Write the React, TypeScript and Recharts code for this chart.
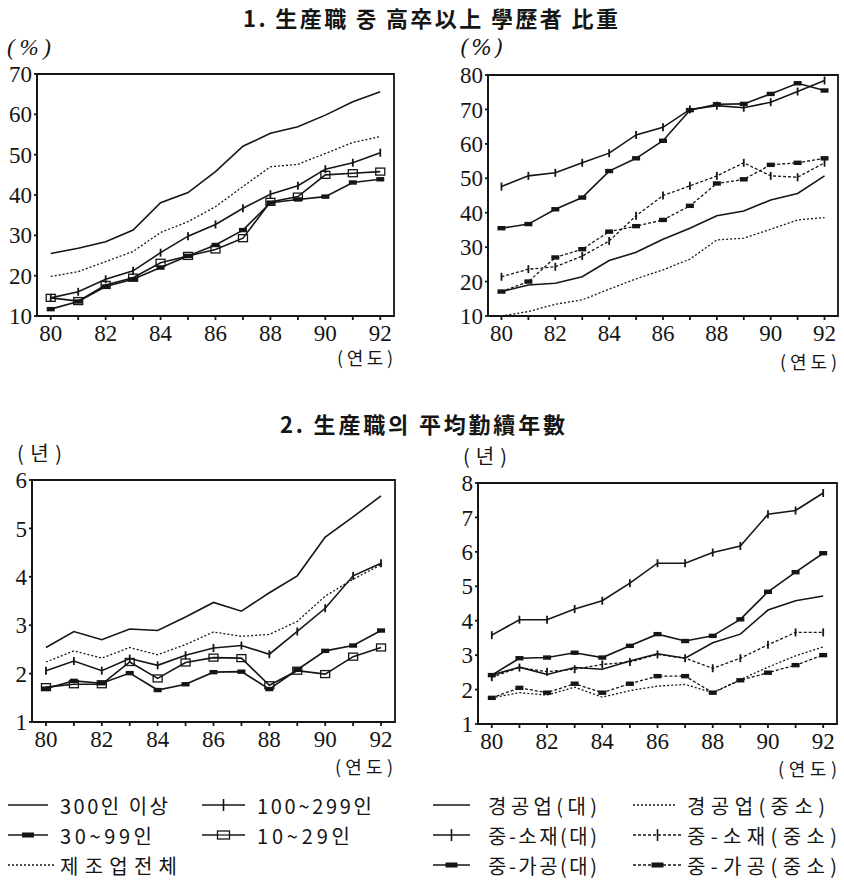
import React from 'react';
import { LineChart, Line, XAxis, YAxis, ReferenceArea } from 'recharts';

const INK = '#151515';
const SERIF = "'Liberation Serif', 'DejaVu Serif', serif";
const SERIF2 = "'DejaVu Serif', serif";
const KR = "'Noto Sans CJK KR', 'Noto Sans', sans-serif";

const years = [80, 81, 82, 83, 84, 85, 86, 87, 88, 89, 90, 91, 92];

// 1. 생산직 중 고졸이상 학력자 비중 (%) - 규모별
const over300Pct = [25.5, 26.8, 28.4, 31.3, 38.1, 40.6, 45.8, 52.1, 55.3, 56.9, 59.8, 63.1, 65.6];
const mid100Pct = [14.5, 16.0, 19.1, 21.2, 25.7, 29.8, 32.7, 36.7, 40.2, 42.3, 46.4, 48.0, 50.5];
const small30Pct = [11.7, 13.6, 17.3, 19.1, 22.0, 24.9, 27.6, 31.3, 38.1, 38.9, 39.6, 43.1, 43.9];
const tiny10Pct = [14.5, 13.7, 17.7, 19.5, 23.2, 24.9, 26.5, 29.3, 38.3, 39.6, 45.0, 45.4, 45.8];
const mfgPct = [19.8, 21.0, 23.5, 26.0, 30.7, 33.4, 37.1, 42.1, 47.0, 47.6, 50.3, 53.0, 54.5];

// 1. 업종별
const lightLargePct = [17.1, 19.0, 19.5, 21.4, 26.1, 28.5, 32.3, 35.5, 39.1, 40.5, 43.7, 45.6, 50.7];
const lightSmePct = [10.0, 11.3, 13.4, 14.7, 17.8, 20.8, 23.4, 26.5, 32.1, 32.6, 35.2, 37.9, 38.6];
const matLargePct = [47.6, 50.7, 51.6, 54.5, 57.3, 62.6, 64.8, 70.0, 71.1, 70.5, 72.1, 75.2, 78.4];
const matSmePct = [21.4, 23.6, 24.3, 27.4, 31.8, 39.1, 45.0, 47.8, 50.7, 54.5, 50.7, 50.3, 54.5];
const procLargePct = [35.5, 36.7, 41.0, 44.4, 52.1, 55.8, 60.9, 69.8, 71.5, 71.6, 74.5, 77.6, 75.5];
const procSmePct = [17.1, 20.0, 27.0, 29.4, 34.5, 36.1, 37.9, 42.0, 48.5, 49.7, 53.9, 54.5, 55.8];

// 2. 생산직의 평균근속년수 (년) - 규모별
const over300Yr = [2.54, 2.87, 2.70, 2.92, 2.89, 3.17, 3.47, 3.29, 3.67, 4.02, 4.82, 5.24, 5.67];
const mid100Yr = [2.06, 2.26, 2.06, 2.31, 2.17, 2.38, 2.53, 2.58, 2.40, 2.87, 3.35, 4.02, 4.28];
const small30Yr = [1.69, 1.85, 1.80, 2.01, 1.66, 1.78, 2.03, 2.04, 1.68, 2.08, 2.47, 2.58, 2.89];
const tiny10Yr = [1.72, 1.78, 1.78, 2.24, 1.90, 2.23, 2.33, 2.32, 1.76, 2.06, 1.99, 2.35, 2.54];
const mfgYr = [2.24, 2.47, 2.32, 2.54, 2.39, 2.60, 2.86, 2.77, 2.81, 3.08, 3.60, 3.95, 4.25];

// 2. 업종별
const lightLargeYr = [2.42, 2.65, 2.44, 2.64, 2.59, 2.83, 3.04, 2.91, 3.36, 3.61, 4.31, 4.58, 4.72];
const lightSmeYr = [1.76, 1.91, 1.84, 2.07, 1.78, 1.97, 2.10, 2.15, 1.91, 2.29, 2.65, 2.98, 3.24];
const matLargeYr = [3.58, 4.03, 4.03, 4.34, 4.58, 5.09, 5.67, 5.67, 5.98, 6.17, 7.09, 7.20, 7.71];
const matSmeYr = [2.36, 2.64, 2.52, 2.59, 2.73, 2.80, 3.02, 2.91, 2.62, 2.91, 3.30, 3.66, 3.66];
const procLargeYr = [2.42, 2.91, 2.93, 3.07, 2.93, 3.27, 3.61, 3.41, 3.56, 4.04, 4.84, 5.41, 5.96];
const procSmeYr = [1.76, 2.05, 1.91, 2.17, 1.91, 2.17, 2.39, 2.39, 1.91, 2.27, 2.49, 2.71, 3.00];

const pctTicksL = [10, 20, 30, 40, 50, 60, 70];
const pctTicksR = [10, 20, 30, 40, 50, 60, 70, 80];
const yrTicksL = [1, 2, 3, 4, 5, 6];
const yrTicksR = [1, 2, 3, 4, 5, 6, 7, 8];

type Marker = 'plus' | 'bar' | 'square' | null;
interface Series {
  key: string;
  name: string;
  values: number[];
  dash?: string;
  marker: Marker;
}

const sizeSeries = (a: number[], b: number[], c: number[], d: number[], e: number[]): Series[] => [
  { key: 'over300', name: '300인 이상', values: a, marker: null },
  { key: 'mfg', name: '제조업전체', values: e, dash: '2 2', marker: null },
  { key: 'mid100', name: '100~299인', values: b, marker: 'plus' },
  { key: 'small30', name: '30~99인', values: c, marker: 'bar' },
  { key: 'tiny10', name: '10~29인', values: d, marker: 'square' },
];

const industrySeries = (ll: number[], ls: number[], ml: number[], ms: number[], pl: number[], ps: number[]): Series[] => [
  { key: 'lightLarge', name: '경공업(대)', values: ll, marker: null },
  { key: 'lightSme', name: '경공업(중소)', values: ls, dash: '2 2', marker: null },
  { key: 'matLarge', name: '중-소재(대)', values: ml, marker: 'plus' },
  { key: 'matSme', name: '중-소재(중소)', values: ms, dash: '3 2', marker: 'plus' },
  { key: 'procLarge', name: '중-가공(대)', values: pl, marker: 'bar' },
  { key: 'procSme', name: '중-가공(중소)', values: ps, dash: '3 2', marker: 'bar' },
];

const makeDot = (kind: Marker) => (p: any) => {
  const { cx, cy, index } = p;
  if (cx == null || cy == null) return <g key={index} />;
  if (kind === 'plus')
    return <line key={index} x1={cx} x2={cx} y1={cy - 4} y2={cy + 4} stroke={INK} strokeWidth={1.8} />;
  if (kind === 'bar')
    return <rect key={index} x={cx - 4} y={cy - 2.2} width={8} height={4.4} fill={INK} />;
  return <rect key={index} x={cx - 4.5} y={cy - 3.5} width={9} height={7} fill="none" stroke={INK} strokeWidth={1.3} />;
};

interface Box { x0: number; x1: number; y0: number; y1: number; }

const TOP = 20;
const AXIS_H = 36;
const AXIS_W = 40;
const RIGHT = 6;

const Panel: React.FC<{ box: Box; series: Series[]; yDomain: [number, number]; yTicks: number[] }> = ({ box, series, yDomain, yTicks }) => {
  const data = years.map((year, i) => {
    const row: Record<string, number> = { year };
    series.forEach((s) => { row[s.key] = s.values[i]; });
    return row;
  });
  const tickStyle = { fontFamily: SERIF, fontSize: 23, fill: INK };
  return (
    <div style={{ position: 'absolute', left: box.x0 - AXIS_W, top: box.y0 - TOP }}>
      <LineChart
        width={box.x1 - box.x0 + AXIS_W + RIGHT}
        height={box.y1 - box.y0 + TOP + AXIS_H}
        data={data}
        margin={{ top: TOP, right: RIGHT, left: 0, bottom: 0 }}
        style={{ fontFamily: SERIF }}
      >
        <XAxis
          dataKey="year"
          type="number"
          domain={[79.5, 92.5]}
          ticks={years}
          interval={0}
          tickFormatter={(v: number) => (v % 2 === 0 ? String(v) : '')}
          stroke={INK}
          strokeWidth={1.8}
          tickSize={4}
          tickMargin={5}
          height={AXIS_H}
          tick={tickStyle}
        />
        <YAxis
          type="number"
          domain={yDomain}
          ticks={yTicks}
          interval={0}
          stroke={INK}
          strokeWidth={1.8}
          tickSize={3}
          tickMargin={2}
          width={AXIS_W}
          tick={tickStyle}
        />
        <ReferenceArea
          x1={79.5}
          x2={92.5}
          y1={yDomain[0]}
          y2={yDomain[1]}
          fill="none"
          stroke={INK}
          strokeWidth={1.8}
          ifOverflow="visible"
        />
        {series.map((s) => (
          <Line
            key={s.key}
            dataKey={s.key}
            name={s.name}
            type="linear"
            stroke={INK}
            strokeWidth={s.dash ? 1.3 : 1.6}
            strokeDasharray={s.dash}
            dot={s.marker ? makeDot(s.marker) : false}
            activeDot={false}
            isAnimationActive={false}
          />
        ))}
      </LineChart>
    </div>
  );
};

const LegendSample: React.FC<{ x0: number; x1: number; y: number; dash?: string; marker: Marker }> = ({ x0, x1, y, dash, marker }) => {
  const cx = (x0 + x1) / 2;
  return (
    <g>
      <line x1={x0} x2={x1} y1={y} y2={y} stroke={INK} strokeWidth={dash ? 1.3 : 1.6} strokeDasharray={dash} />
      {marker === 'plus' && <line x1={cx} x2={cx} y1={y - 6} y2={y + 6} stroke={INK} strokeWidth={1.6} />}
      {marker === 'bar' && <rect x={cx - 6} y={y - 2.5} width={12} height={5} fill={INK} />}
      {marker === 'square' && <rect x={cx - 6} y={y - 4} width={12} height={8} fill="#fff" stroke={INK} strokeWidth={1.3} />}
      {marker === 'square' && <line x1={cx - 6} x2={cx + 6} y1={y} y2={y} stroke={INK} strokeWidth={1.2} />}
    </g>
  );
};

const legendLeft = [
  { name: '300인 이상', x0: 8, x1: 48, tx: 60, w: 108, row: 0, dash: undefined, marker: null as Marker },
  { name: '100~299인', x0: 202, x1: 245, tx: 257, w: 115, row: 0, dash: undefined, marker: 'plus' as Marker },
  { name: '30~99인', x0: 8, x1: 48, tx: 60, w: 92, row: 1, dash: undefined, marker: 'bar' as Marker },
  { name: '10~29인', x0: 202, x1: 245, tx: 257, w: 93, row: 1, dash: undefined, marker: 'square' as Marker },
  { name: '제조업전체', x0: 8, x1: 55, tx: 60, w: 117, row: 2, dash: '2 2', marker: null as Marker },
];
const legendRight = [
  { name: '경공업(대)', x0: 433, x1: 470, tx: 488, w: 109, row: 0, dash: undefined, marker: null as Marker },
  { name: '경공업(중소)', x0: 633, x1: 677, tx: 687, w: 138, row: 0, dash: '2 2', marker: null as Marker },
  { name: '중-소재(대)', x0: 433, x1: 470, tx: 488, w: 109, row: 1, dash: undefined, marker: 'plus' as Marker },
  { name: '중-소재(중소)', x0: 633, x1: 682, tx: 687, w: 150, row: 1, dash: '3 2', marker: 'plus' as Marker },
  { name: '중-가공(대)', x0: 433, x1: 470, tx: 488, w: 109, row: 2, dash: undefined, marker: 'bar' as Marker },
  { name: '중-가공(중소)', x0: 633, x1: 682, tx: 687, w: 150, row: 2, dash: '3 2', marker: 'bar' as Marker },
];
const legendRows = [805, 835, 865];

export default function App() {
  return (
    <div style={{ position: 'absolute', left: 0, top: 0, width: 844, height: 884, background: '#fff', overflow: 'hidden' }}>
      <Panel
        box={{ x0: 37, x1: 394, y0: 74, y1: 316 }}
        series={sizeSeries(over300Pct, mid100Pct, small30Pct, tiny10Pct, mfgPct)}
        yDomain={[10, 70]}
        yTicks={pctTicksL}
      />
      <Panel
        box={{ x0: 488, x1: 838, y0: 75, y1: 316 }}
        series={industrySeries(lightLargePct, lightSmePct, matLargePct, matSmePct, procLargePct, procSmePct)}
        yDomain={[10, 80]}
        yTicks={pctTicksR}
      />
      <Panel
        box={{ x0: 32, x1: 395, y0: 480, y1: 722 }}
        series={sizeSeries(over300Yr, mid100Yr, small30Yr, tiny10Yr, mfgYr)}
        yDomain={[1, 6]}
        yTicks={yrTicksL}
      />
      <Panel
        box={{ x0: 478, x1: 837, y0: 483, y1: 724 }}
        series={industrySeries(lightLargeYr, lightSmeYr, matLargeYr, matSmeYr, procLargeYr, procSmeYr)}
        yDomain={[1, 8]}
        yTicks={yrTicksR}
      />
      <svg width={844} height={884} style={{ position: 'absolute', left: 0, top: 0, pointerEvents: 'none' }}>
        <text x={243} y={17} dominantBaseline="central" fontFamily={KR} fontWeight={700} fontSize={22} fill={INK} textLength={375} lengthAdjust="spacing">
          1. 生産職 중 高卒以上 學歷者 比重
        </text>
        <text x={280} y={423} dominantBaseline="central" fontFamily={KR} fontWeight={700} fontSize={22} fill={INK} textLength={285} lengthAdjust="spacing">
          2. 生産職의 平均勤續年數
        </text>

        <text x={7} y={47} dominantBaseline="central" fontFamily={SERIF} fontStyle="italic" fontSize={23} fill={INK} textLength={44} lengthAdjust="spacing">(%)</text>
        <text x={460} y={47} dominantBaseline="central" fontFamily={SERIF2} fontStyle="italic" fontSize={22} fill={INK} textLength={43} lengthAdjust="spacing">(%)</text>
        <text x={17} y={452} dominantBaseline="central" fontFamily={KR} fontSize={20} fill={INK} textLength={45} lengthAdjust="spacing">(년)</text>
        <text x={463} y={455} dominantBaseline="central" fontFamily={KR} fontSize={20} fill={INK} textLength={44} lengthAdjust="spacing">(년)</text>

        <text x={337} y={357} dominantBaseline="central" fontFamily={KR} fontSize={18} fill={INK} textLength={56} lengthAdjust="spacing">(연도)</text>
        <text x={780} y={361} dominantBaseline="central" fontFamily={KR} fontSize={18} fill={INK} textLength={57} lengthAdjust="spacing">(연도)</text>
        <text x={335} y={766} dominantBaseline="central" fontFamily={KR} fontSize={18} fill={INK} textLength={58} lengthAdjust="spacing">(연도)</text>
        <text x={778} y={768} dominantBaseline="central" fontFamily={KR} fontSize={18} fill={INK} textLength={59} lengthAdjust="spacing">(연도)</text>

        {[...legendLeft, ...legendRight].map((l) => (
          <g key={l.name}>
            <LegendSample x0={l.x0} x1={l.x1} y={legendRows[l.row]} dash={l.dash} marker={l.marker} />
            <text x={l.tx} y={legendRows[l.row]} dominantBaseline="central" fontFamily={KR} fontSize={20} fill={INK} textLength={l.w} lengthAdjust="spacing">
              {l.name}
            </text>
          </g>
        ))}
      </svg>
    </div>
  );
}
